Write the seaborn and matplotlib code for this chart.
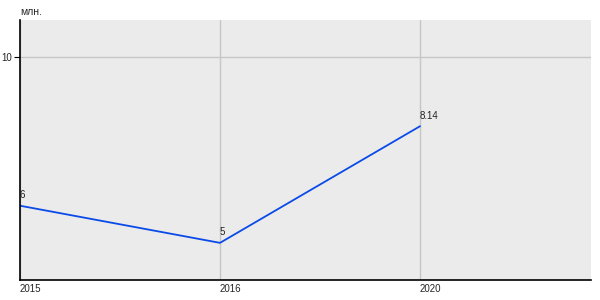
import matplotlib
matplotlib.use("Agg")
import matplotlib.pyplot as plt
import seaborn as sns
import pandas as pd

years = ["2015", "2016", "2020"]
values = [6, 5, 8.14]
value_labels = ["6", "5", "8.14"]
unit = "млн."

sns.set_theme(style="white")
plt.rcParams['font.family'] = ['Liberation Sans', 'DejaVu Sans']

df = pd.DataFrame({"pos": list(range(len(years))), "value": values})

fig = plt.figure(figsize=(6, 3), dpi=100)
ax = fig.add_axes([20/600, 20/300, 571/600, 260/300])
ax.set_facecolor("#ebebeb")

sns.lineplot(data=df, x="pos", y="value", ax=ax, color="#0a4ae8", linewidth=1.3)

ax.set_xlim(0, 2.855)
ax.set_ylim(4, 11)
ax.set_xticks(df["pos"])
ax.set_xticklabels(years, ha="left", fontsize=7)
ax.set_yticks([10])
ax.set_yticklabels(["10"], fontsize=7)
ax.grid(True, color="#c6c6c6", linewidth=1)
ax.set_axisbelow(True)
ax.set_xlabel("")
ax.set_ylabel("")

for s in ["top", "right"]:
    ax.spines[s].set_visible(False)
for s in ["left", "bottom"]:
    ax.spines[s].set_color("black")
    ax.spines[s].set_linewidth(1.2)

ax.tick_params(axis="x", length=0, pad=3)
ax.tick_params(axis="y", length=4, width=0.8, color="black", pad=2, left=True)

for p, v, t in zip(df["pos"], values, value_labels):
    ax.annotate(t, (p, v), xytext=(0, 4), textcoords="offset points",
                ha="left", va="bottom", fontsize=7, color="#222222")

fig.text(20/600, 1 - 12/300, unit, ha="left", va="center", fontsize=7.5)

fig.savefig("out.png", dpi=100)
